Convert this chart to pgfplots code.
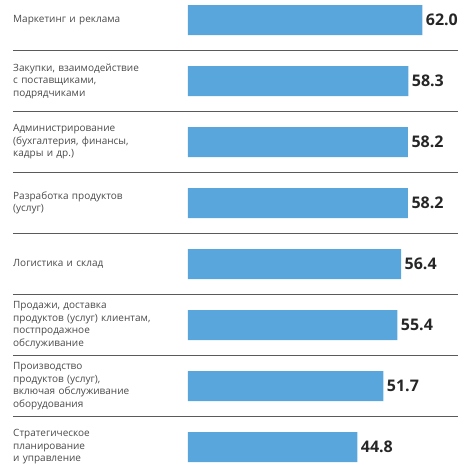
\documentclass[border=0pt]{standalone}
\usepackage{fontspec}
\setmainfont{Open Sans}
\usepackage{pgfplots}
\pgfplotsset{compat=1.18}
\definecolor{barblue}{HTML}{58A6DB}
\definecolor{labelgray}{HTML}{4A4A4A}
\definecolor{sepgray}{HTML}{5A5A5A}

\pgfplotstableread{
y value
1 62.0
2 58.3
3 58.2
4 58.2
5 56.4
6 55.4
7 51.7
8 44.8
}\shares

\begin{document}
\begin{tikzpicture}
\path[use as bounding box] (0,0) rectangle (458pt,-464pt);
\begin{axis}[
    at={(188pt,-1.7pt)}, anchor=north west,
    scale only axis,
    width=264.6pt, height=463.6pt,
    xbar, bar width=30pt,
    xmin=0, xmax=70,
    ymin=0.7, ymax=8.3,
    y dir=reverse,
    axis line style={draw=none},
    major tick length=0pt,
    clip=false,
    ytick={1,...,8},
    yticklabels={
        {Маркетинг и реклама},
        {Закупки, взаимодействие\\с поставщиками,\\подрядчиками},
        {Администрирование\\(бухгалтерия, финансы,\\кадры и др.)},
        {Разработка продуктов\\(услуг)},
        {Логистика и склад},
        {Продажи, доставка\\продуктов (услуг) клиентам,\\постпродажное\\обслуживание},
        {Производство\\продуктов (услуг),\\включая обслуживание\\оборудования},
        {Стратегическое\\планирование\\и управление}
    },
    yticklabel style={anchor=west, xshift=-175pt, inner xsep=0pt, text width=172pt, align=left,
        font=\fontsize{10}{12.5}\selectfont, text=labelgray},
    xtick=\empty,
    nodes near coords,
    nodes near coords style={anchor=west, xshift=0pt, font=\fontsize{16}{17}\selectfont\bfseries, text=black!85},
    /pgf/number format/.cd, fixed, fixed zerofill, precision=1, assume math mode=true,
]
\addplot[fill=barblue, draw=none] table[x=value, y=y] {\shares};
\pgfplotsinvokeforeach{1.5,2.5,3.5,4.5,5.5,6.5,7.5}{
    \draw[sepgray, line width=1.3pt] ([xshift=-175pt]axis cs:0,#1) -- (axis cs:71.5,#1);
}
\end{axis}
\end{tikzpicture}
\end{document}
